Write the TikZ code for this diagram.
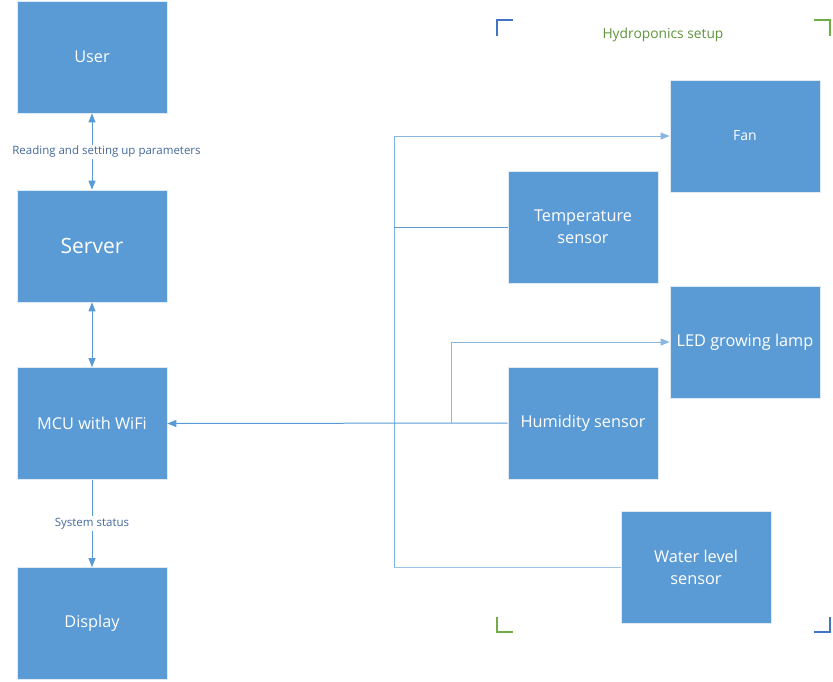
\documentclass[tikz,border=0pt]{standalone}
\usepackage{fontspec}
\setmainfont{Open Sans}
\usetikzlibrary{arrows.meta}
\definecolor{boxblue}{HTML}{5B9BD5}
\definecolor{linkblue}{HTML}{5B9BD5}
\definecolor{lightlink}{HTML}{9DC3E6}
\definecolor{labelblue}{HTML}{44699E}
\definecolor{framegreen}{HTML}{70AD47}
\definecolor{frameblue}{HTML}{4472C4}
\tikzset{
  block/.style={fill=boxblue, draw=white!80!boxblue, line width=0.6pt, text=white,
    minimum width=150pt, minimum height=112pt, inner sep=0pt, align=center,
    font=\fontsize{16.3}{22}\selectfont},
  link/.style={draw=linkblue, line width=1pt},
  tip/.style={-{Triangle[length=9pt,width=7pt]}},
  both/.style={{Triangle[length=9pt,width=7pt]}-{Triangle[length=9pt,width=7pt]}},
  lbl/.style={fill=white, text=labelblue, inner sep=1.5pt, font=\fontsize{11.5}{13}\selectfont},
  corner/.style={line width=1.3pt, line cap=rect}
}
\begin{document}
\begin{tikzpicture}[x=1pt,y=-1pt]
\useasboundingbox (0,0) rectangle (833,681);
% left column
\node[block] (user) at (92,57) {User};
\node[block, font=\fontsize{21}{25}\selectfont] (server) at (92,246) {Server};
\node[block] (mcu) at (92,423.5) {MCU with WiFi};
\node[block] (disp) at (92,623.5) {Display};
% hydroponics devices
\node[block, font=\fontsize{14}{17}\selectfont] (fan) at (745,136) {Fan};
\node[block] (temp) at (583,227) {Temperature\\sensor};
\node[block] (led) at (745,342) {LED growing lamp};
\node[block] (hum) at (583,423) {Humidity sensor};
\node[block] (water) at (696,567) {Water level\\sensor};
% bus junctions
\coordinate (bt) at (394,136);
\coordinate (bb) at (394,567);
\coordinate (lj) at (451,423);
% left column connectors
\draw[link, both] (user.south) -- (server.north);
\node[lbl] (paramlbl) at (106.5,152) {Reading and setting up parameters};
\draw[link, both] (server.south) -- (mcu.north);
\draw[link, tip] (mcu.south) -- node[lbl] {System status} (disp.north);
% bus
\draw[link, draw=lightlink!60!linkblue] (bt) -- (bb);
\draw[link, tip, draw=lightlink!70!linkblue] (bt) -- (fan.west);
\draw[link] (temp.west) -- (temp.west -| bt);
\draw[link, tip] (hum.west) -- (mcu.east);
\draw[link, tip, draw=lightlink!70!linkblue] (lj) |- (led.west);
\draw[link, draw=lightlink] (water.west) -- (bb);
% setup frame corners
\draw[corner, frameblue] (497,35) -- (497,20) -- (512,20);
\draw[corner, framegreen] (815,20) -- (830,20) -- (830,35);
\draw[corner, framegreen] (497,618) -- (497,632) -- (512,632);
\draw[corner, frameblue] (815,632) -- (830,632) -- (830,618);
\node[text=framegreen!85!black, font=\fontsize{13.8}{16}\selectfont] (title) at (663,35) {Hydroponics setup};
\end{tikzpicture}
\end{document}
